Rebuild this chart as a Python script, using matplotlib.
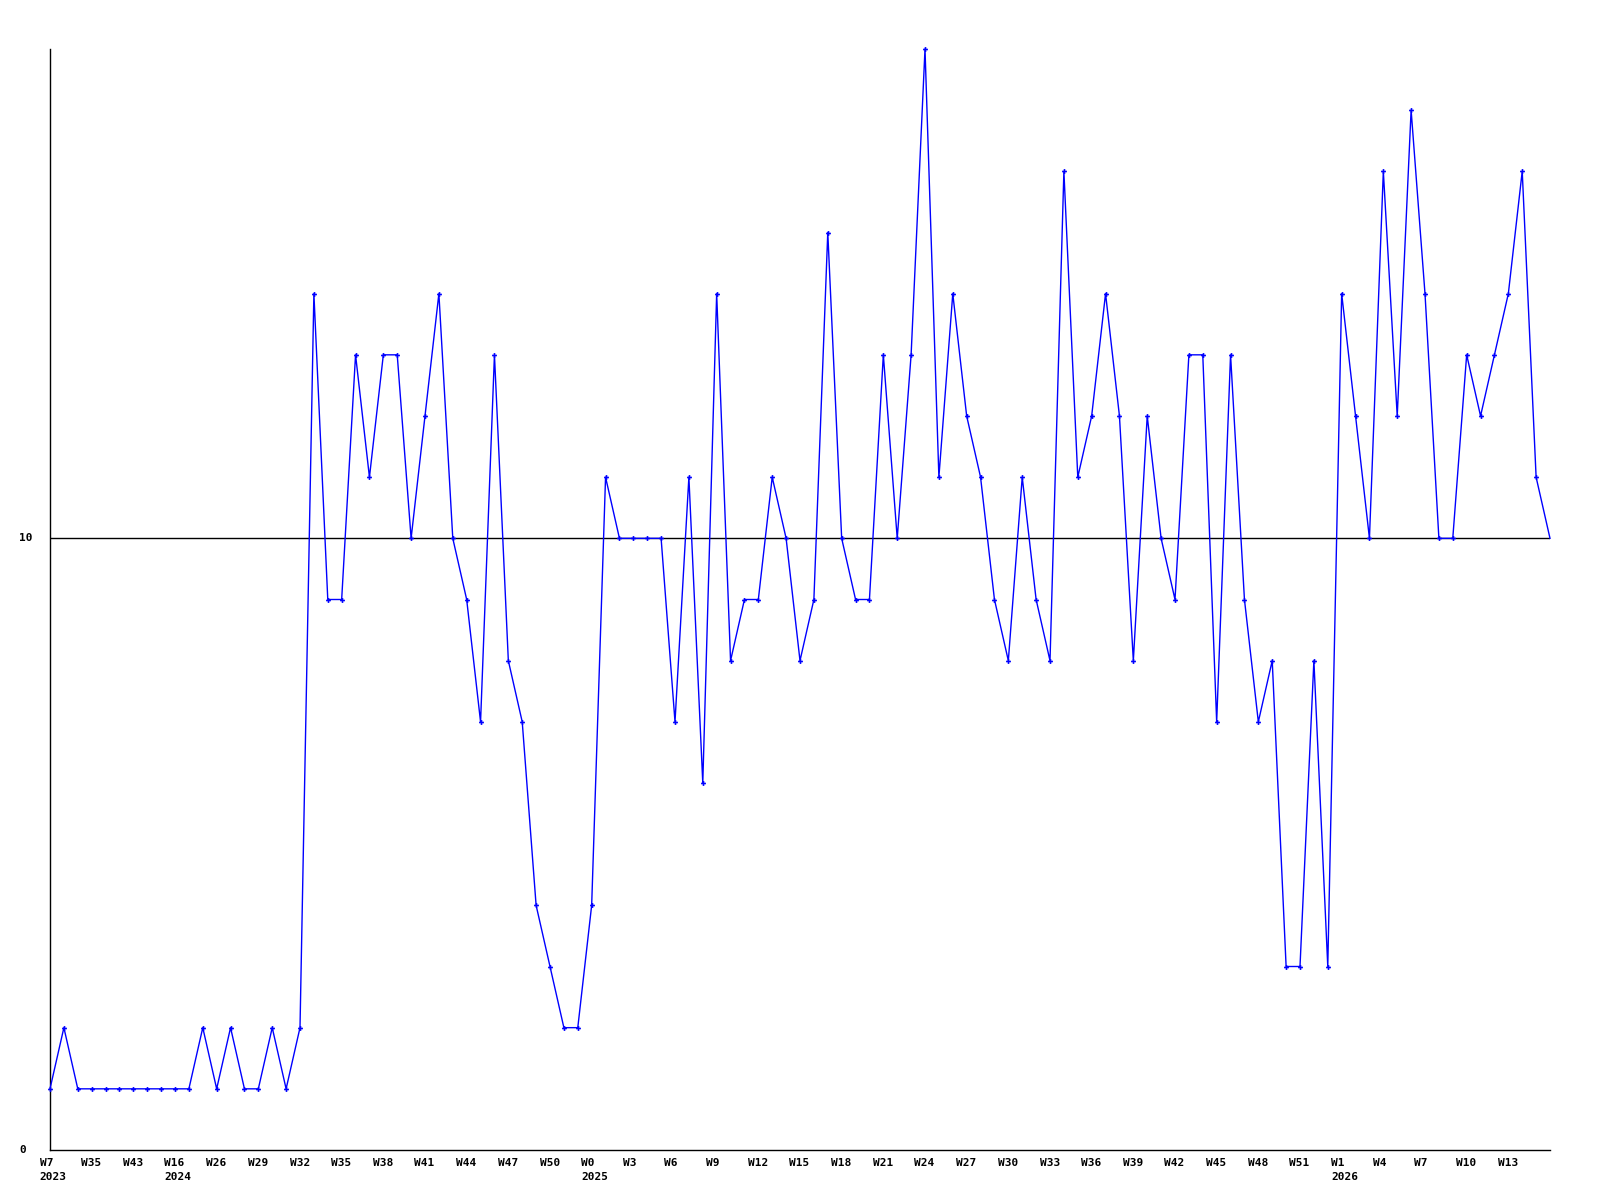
#Weekly count chart
import matplotlib
matplotlib.use("Agg")
import matplotlib.pyplot as plt
import matplotlib.transforms as mtransforms

#Values per week (one point for each week)
Values = [1, 2, 1, 1, 1, 1, 1, 1, 1, 1,
          1, 2, 1, 2, 1, 1, 2, 1, 2, 14,
          9, 9, 13, 11, 13, 13, 10, 12, 14, 10,
          9, 7, 13, 8, 7, 4, 3, 2, 2, 4,
          11, 10, 10, 10, 10, 7, 11, 6, 14, 8,
          9, 9, 11, 10, 8, 9, 15, 10, 9, 9,
          13, 10, 13, 18, 11, 14, 12, 11, 9, 8,
          11, 9, 8, 16, 11, 12, 14, 12, 8, 12,
          10, 9, 13, 13, 7, 13, 9, 7, 8, 3,
          3, 8, 3, 14, 12, 10, 16, 12, 17, 14,
          10, 10, 13, 12, 13, 14, 16, 11, 10]

#Labels shown every third week
Week_Labels = ["W7", "W35", "W43", "W16", "W26", "W29", "W32", "W35", "W38",
               "W41", "W44", "W47", "W50", "W0", "W3", "W6", "W9", "W12",
               "W15", "W18", "W21", "W24", "W27", "W30", "W33", "W36", "W39",
               "W42", "W45", "W48", "W51", "W1", "W4", "W7", "W10", "W13"]
Year_Labels = {0: "2023", 9: "2024", 39: "2025", 93: "2026"}
Y_Labels = [0, 10]

X = list(range(len(Values)))

fig = plt.figure(figsize=(16, 12), dpi=100)
ax = fig.add_axes([50/1600, 50/1200, 1500/1600, 1101/1200])

#last point is drawn without marker in the original
ax.plot(X, Values, color="#0000ff", lw=1, marker="P", ms=3.5, mew=0,
        markevery=list(range(len(Values) - 1)), clip_on=False, zorder=3)
ax.axhline(10, color="black", lw=1, zorder=2)

ax.set_xlim(0, len(Values) - 1)
ax.set_ylim(0, 18)
ax.set_xticks([])
ax.set_yticks([])
for s in ["top", "right"]:
    ax.spines[s].set_visible(False)
for s in ["left", "bottom"]:
    ax.spines[s].set_linewidth(1)
    ax.spines[s].set_color("black")

font = dict(family="DejaVu Sans Mono", fontsize=8, fontweight="bold", color="black")

#Week labels and year labels under axis
base = ax.get_xaxis_transform()
for i in range(len(Week_Labels)):
    off = mtransforms.ScaledTranslation(-10.5/100, -8/100, fig.dpi_scale_trans)
    ax.text(i*3, 0, Week_Labels[i], transform=base + off, ha="left", va="top", **font)
for k in Year_Labels:
    off = mtransforms.ScaledTranslation(-10.5/100, -22/100, fig.dpi_scale_trans)
    ax.text(k, 0, Year_Labels[k], transform=base + off, ha="left", va="top", **font)

#Y labels on left
ybase = ax.get_yaxis_transform()
for v in Y_Labels:
    off = mtransforms.ScaledTranslation(-31/100, 0, fig.dpi_scale_trans)
    ax.text(0, v, str(v), transform=ybase + off, ha="left", va="center", **font)

fig.savefig("out.png", dpi=100)
